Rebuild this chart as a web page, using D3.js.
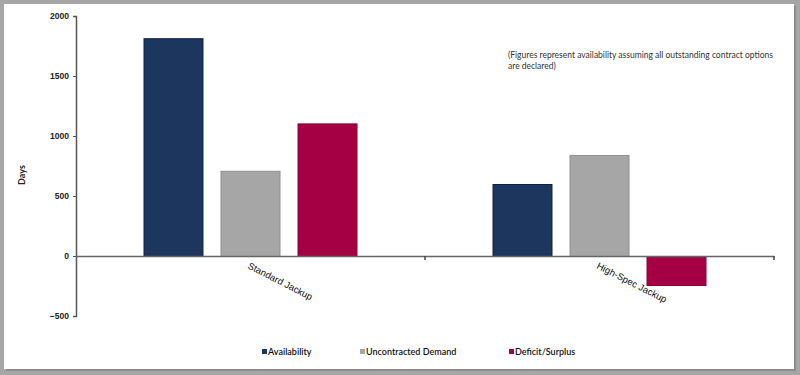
<!DOCTYPE html>
<html>
<head>
<meta charset="utf-8">
<script src="https://cdn.jsdelivr.net/npm/d3@7"></script>
<style>
    body { margin: 0; background: #a6a6a6; }
    #frame {
        position: absolute; left: 4px; top: 4px; width: 790px; height: 365px;
        background: #fff; box-shadow: 2px 2px 0 #8c8c8c;
    }
    svg { position: absolute; left: 0; top: 0; font-family: Lato, "Open Sans", sans-serif; }
</style>
</head>
<body>
<div id="frame"></div>
<div id="chart"></div>
<script>
const categories = ["Standard Jackup", "High-Spec Jackup"];
const seriesNames = ["Availability", "Uncontracted Demand", "Deficit/Surplus"];
const availability = [1815, 600];
const uncontracted = [710, 842];
const deficit = [1105, -242];
const yTicks = [-500, 0, 500, 1000, 1500, 2000];
const colors = ["#1c365e", "#a6a6a6", "#a50044"];
const strokes = ["#0f2242", "#8f8f8f", "#8c0038"];

const width = 800, height = 375;
const margin = { top: 16, left: 76, right: 26, bottom: 59 };

let svg = d3.select("#chart")
    .append("svg")
    .attr("width", width)
    .attr("height", height);

let x = d3.scaleBand()
    .domain(categories)
    .range([margin.left, width - margin.right]);

let x1 = d3.scaleBand()
    .domain(seriesNames)
    .range([0, 214])
    .paddingInner(0.221);

let y = d3.scaleLinear()
    .domain([-500, 2000])
    .range([height - margin.bottom, margin.top]);

let rows = categories.map(function(c, i) {
    return [availability[i], uncontracted[i], deficit[i]];
});

// bars
categories.forEach(function(cat, i) {
    let g = svg.append("g")
        .attr("transform", `translate(${x(cat) + x.bandwidth() / 2 - 107}, 0)`);
    g.selectAll("rect")
        .data(rows[i])
        .enter()
        .append("rect")
        .attr("x", (d, j) => x1(seriesNames[j]) + 0.5)
        .attr("y", d => y(Math.max(0, d)) + 0.5)
        .attr("width", x1.bandwidth() - 1)
        .attr("height", d => Math.abs(y(d) - y(0)))
        .style("fill", (d, j) => colors[j])
        .style("stroke", (d, j) => strokes[j])
        .style("stroke-width", "1px");
});

// y axis
let yAxis = d3.axisLeft(y)
    .tickValues(yTicks)
    .tickSize(3)
    .tickPadding(4)
    .tickFormat(d3.format("d"));

let yg = svg.append("g")
    .attr("transform", `translate(${margin.left}, 0)`)
    .call(yAxis);
yg.select(".domain").attr("stroke", "#555").attr("stroke-width", 1.5);
yg.selectAll(".tick line").attr("stroke", "#555");
yg.selectAll("text").style("font-size", "8.5px").style("font-weight", "bold").attr("fill", "#222");

// x axis at zero
let xAxis = d3.axisBottom(x)
    .tickValues([])
    .tickSizeOuter(0);

let xg = svg.append("g")
    .attr("transform", `translate(0, ${y(0)})`)
    .call(xAxis);
xg.select(".domain").attr("stroke", "#666").attr("stroke-width", 1.5);

// category dividers
xg.selectAll(".divider")
    .data([x(categories[1]), x.range()[1]])
    .enter()
    .append("line")
    .attr("x1", d => d).attr("x2", d => d)
    .attr("y1", 0).attr("y2", 4)
    .attr("stroke", "#444").attr("stroke-width", 1.5);

// category labels
xg.selectAll(".cat")
    .data(categories)
    .enter()
    .append("text")
    .attr("transform", d => `translate(${x(d) + x.bandwidth() / 2 - 2}, 9) rotate(27)`)
    .attr("text-anchor", "start")
    .attr("dy", "0.35em")
    .style("font-size", "9.5px")
    .attr("fill", "#111")
    .text(d => d);

// y title
svg.append("text")
    .attr("transform", `translate(25, 175) rotate(-90)`)
    .attr("text-anchor", "middle")
    .style("font-size", "9px")
    .style("font-weight", "bold")
    .attr("fill", "#222")
    .text("Days");

// note
svg.append("text")
    .attr("x", 508).attr("y", 58)
    .style("font-size", "8.5px")
    .attr("fill", "#333")
    .selectAll("tspan")
    .data(["(Figures represent availability assuming all outstanding contract options", "are declared)"])
    .enter()
    .append("tspan")
    .attr("x", 508)
    .attr("dy", (d, i) => i ? "11" : "0")
    .text(d => d);

// legend
let legendX = [262, 360, 509];
let legend = svg.selectAll(".legend")
    .data(seriesNames)
    .enter()
    .append("g")
    .attr("transform", (d, i) => `translate(${legendX[i]}, 352)`);
legend.append("rect")
    .attr("x", 0).attr("y", -3)
    .attr("width", 5).attr("height", 5)
    .style("fill", (d, i) => colors[i]);
legend.append("text")
    .attr("x", 6).attr("dy", "0.35em")
    .style("font-size", "9px")
    .style("font-weight", "600")
    .attr("fill", "#111")
    .text(d => d);
</script>
</body>
</html>
